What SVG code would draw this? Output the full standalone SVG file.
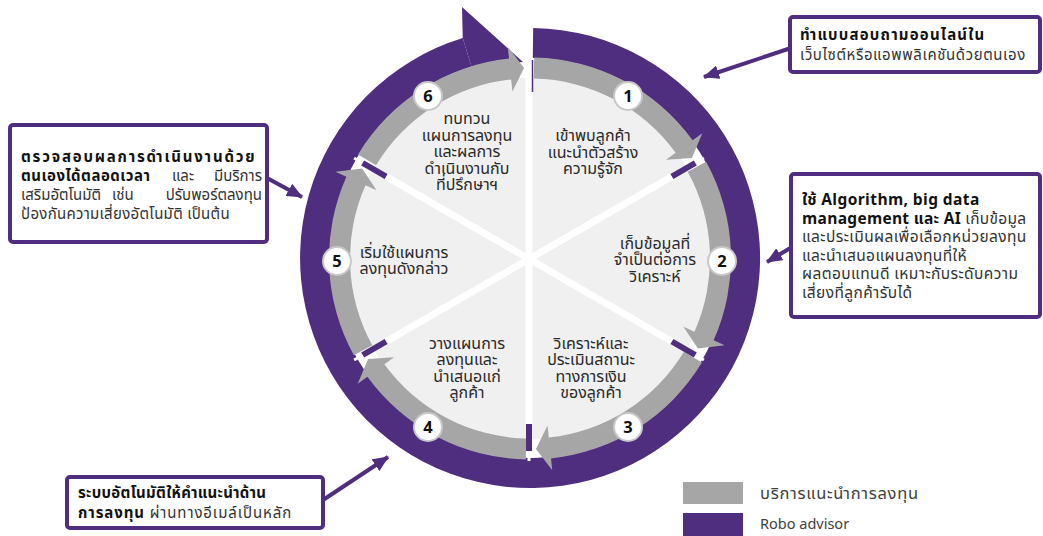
<svg xmlns="http://www.w3.org/2000/svg" width="1043" height="536" viewBox="0 0 1043 536">
<defs>
<marker id="ah" viewBox="0 0 16 14" refX="15" refY="7" markerWidth="16" markerHeight="14" markerUnits="userSpaceOnUse" orient="auto"><path d="M0,0 L16,7 L0,14 Z" fill="#4F2D7F"/></marker>
<style>
.t{font-family:"Noto Sans Thai","Noto Sans",Tahoma,sans-serif;font-size:15px;fill:#222}
.s{font-size:16px;fill:#2a2a2a;text-anchor:middle}
.m{font-size:15.5px;letter-spacing:0.4px}
.b{font-weight:bold;fill:#111}
.r{fill:#333}
.g{fill:#A6A6A6}
.p{fill:#4F2D7F}
.box{fill:#fff;stroke:#4F2D7F;stroke-width:4}
.arr{stroke:#4F2D7F;stroke-width:4;fill:none;marker-end:url(#ah)}
.num{fill:#fff;stroke:#C8C8C8;stroke-width:2}
.nt{font-family:"Noto Sans",Tahoma,sans-serif;font-size:16.5px;font-weight:bold;text-anchor:middle;fill:#111}
.sp{stroke:#fff;stroke-width:7}
.sp2{stroke:#fff;stroke-width:3}
.tk{stroke:#4F2D7F;stroke-width:6}
</style>
</defs>
<g id="ring">
<path class="p" d="M533.2 28 A230 230 0 1 1 462.75 38.05 L471.53 66.74 A200 200 0 1 0 532.8 58 Z"/>
<path class="p" d="M462 7 L523 62 L471.5 66.7 L462.75 38.05 Z"/>
<circle cx="530" cy="258.5" r="181" fill="#F0F0F0"/>
</g>
<g id="segments">
<path class="g" d="M534.21 57.54 A201 201 0 0 1 692.61 140.35 L702.32 133.3 L691.9 158.11 L665.92 159.75 L675.62 152.7 A180 180 0 0 0 533.77 78.54 Z"/>
<path class="g" d="M706.14 161.67 A201 201 0 0 1 713.62 340.25 L724.59 345.14 L697.89 348.52 L683.48 326.83 L694.44 331.71 A180 180 0 0 0 687.74 171.78 Z"/>
<path class="g" d="M701.93 362.62 A201 201 0 0 1 551.01 458.4 L552.26 470.33 L535.98 448.91 L547.56 425.58 L548.82 437.51 A180 180 0 0 0 683.96 351.75 Z"/>
<path class="g" d="M525.79 459.46 A201 201 0 0 1 367.39 376.65 L357.68 383.7 L368.1 358.89 L394.08 357.25 L384.38 364.3 A180 180 0 0 0 526.23 438.46 Z"/>
<path class="g" d="M353.86 355.33 A201 201 0 0 1 346.38 176.75 L335.41 171.86 L362.11 168.48 L376.52 190.17 L365.56 185.29 A180 180 0 0 0 372.26 345.22 Z"/>
<path class="g" d="M358.07 154.38 A201 201 0 0 1 508.99 58.6 L507.74 46.67 L524.02 68.09 L512.44 91.42 L511.18 79.49 A180 180 0 0 0 376.04 165.25 Z"/>
</g>
<g id="spokes">
<line class="sp" x1="529" y1="259" x2="529" y2="57"/>
<line class="sp" x1="529" y1="259" x2="671.9" y2="176.5"/>
<line class="sp" x1="529" y1="259" x2="671.9" y2="341.5"/>
<line class="sp" x1="529" y1="259" x2="529" y2="424"/>
<line class="sp" x1="529" y1="259" x2="386.1" y2="341.5"/>
<line class="sp" x1="529" y1="259" x2="386.1" y2="176.5"/>
<line class="sp2" x1="671.9" y1="176.5" x2="703.9" y2="158"/>
<line class="sp2" x1="671.9" y1="341.5" x2="703.9" y2="360"/>
<line class="sp2" x1="529" y1="424" x2="529" y2="461"/>
<line class="sp2" x1="386.1" y1="341.5" x2="354.1" y2="360"/>
<line class="sp2" x1="386.1" y1="176.5" x2="354.1" y2="158"/>
<line class="tk" x1="671.9" y1="176.5" x2="695.3" y2="163"/>
<line class="tk" x1="671.9" y1="341.5" x2="695.3" y2="355"/>
<line class="tk" x1="529" y1="424" x2="529" y2="451"/>
<line class="tk" x1="386.1" y1="341.5" x2="362.7" y2="355"/>
<line class="tk" x1="386.1" y1="176.5" x2="362.7" y2="163"/>
<line x1="532.5" y1="60" x2="532.5" y2="92" stroke="#4F2D7F" stroke-width="1.5"/>
</g>
<g id="step1">
<circle class="num" cx="628" cy="96" r="14"/><text class="nt" x="628" y="102">1</text>
<text class="t s"><tspan x="593" y="141">เข้าพบลูกค้า</tspan><tspan x="593" y="157.5">แนะนำตัวสร้าง</tspan><tspan x="593" y="174">ความรู้จัก</tspan></text>
</g>
<g id="step2">
<circle class="num" cx="722" cy="261" r="14"/><text class="nt" x="722" y="267">2</text>
<text class="t s"><tspan x="655" y="248.5">เก็บข้อมูลที่</tspan><tspan x="655" y="265">จำเป็นต่อการ</tspan><tspan x="655" y="281.5">วิเคราะห์</tspan></text>
</g>
<g id="step3">
<circle class="num" cx="628" cy="427" r="14"/><text class="nt" x="628" y="433">3</text>
<text class="t s"><tspan x="591" y="348.5">วิเคราะห์และ</tspan><tspan x="591" y="365">ประเมินสถานะ</tspan><tspan x="591" y="381.5">ทางการเงิน</tspan><tspan x="591" y="398">ของลูกค้า</tspan></text>
</g>
<g id="step4">
<circle class="num" cx="428" cy="427" r="14"/><text class="nt" x="428" y="433">4</text>
<text class="t s"><tspan x="467" y="348.5">วางแผนการ</tspan><tspan x="467" y="365">ลงทุนและ</tspan><tspan x="467" y="381.5">นำเสนอแก่</tspan><tspan x="467" y="398">ลูกค้า</tspan></text>
</g>
<g id="step5">
<circle class="num" cx="337" cy="261" r="14"/><text class="nt" x="337" y="267">5</text>
<text class="t s"><tspan x="404" y="257.5">เริ่มใช้แผนการ</tspan><tspan x="404" y="274">ลงทุนดังกล่าว</tspan></text>
</g>
<g id="step6">
<circle class="num" cx="428" cy="96" r="14"/><text class="nt" x="428" y="102">6</text>
<text class="t s"><tspan x="467" y="124">ทบทวน</tspan><tspan x="467" y="140.5">แผนการลงทุน</tspan><tspan x="467" y="157">และผลการ</tspan><tspan x="467" y="173.5">ดำเนินงานกับ</tspan><tspan x="467" y="190">ที่ปรึกษาฯ</tspan></text>
</g>
<g id="connectors">
<line class="arr" x1="791" y1="48" x2="704" y2="77"/>
<line class="arr" x1="792" y1="247" x2="767" y2="262"/>
<line class="arr" x1="267" y1="178" x2="302" y2="197"/>
<line class="arr" x1="323" y1="500" x2="388" y2="457"/>
</g>
<g id="box-online">
<rect class="box" x="790" y="17" width="250" height="55" rx="3"/>
<text class="t b" x="800" y="40" style="letter-spacing:1.2px">ทำแบบสอบถามออนไลน์ใน</text>
<text class="t r" x="800" y="60" style="letter-spacing:0.6px">เว็บไซต์หรือแอพพลิเคชันด้วยตนเอง</text>
</g>
<g id="box-ai">
<rect class="box" x="791" y="174" width="249" height="143" rx="3"/>
<text class="t m b" x="802" y="205" style="letter-spacing:0.4px">ใช้ Algorithm, big data</text>
<text class="t m" x="802" y="223.5" style="letter-spacing:0.3px"><tspan class="b">management และ AI</tspan><tspan class="r"> เก็บข้อมูล</tspan></text>
<text class="t m r" x="802" y="242">และประเมินผลเพื่อเลือกหน่วยลงทุน</text>
<text class="t m r" x="802" y="260.5">และนำเสนอแผนลงทุนที่ให้</text>
<text class="t m r" x="802" y="279">ผลตอบแทนดี เหมาะกับระดับความ</text>
<text class="t m r" x="802" y="297.5">เสี่ยงที่ลูกค้ารับได้</text>
</g>
<g id="box-monitor">
<rect class="box" x="10" y="125" width="257" height="117" rx="3"/>
<text class="t b" x="21" y="162" style="letter-spacing:1.8px">ตรวจสอบผลการดำเนินงานด้วย</text>
<text class="t b" x="21" y="181" style="letter-spacing:0.5px">ตนเองได้ตลอดเวลา</text>
<text class="t r" x="172" y="181">และ</text>
<text class="t r" x="262" y="181" text-anchor="end">มีบริการ</text>
<text class="t r" x="21" y="200">เสริมอัตโนมัติ</text>
<text class="t r" x="112" y="200">เช่น</text>
<text class="t r" x="262" y="200" text-anchor="end">ปรับพอร์ตลงทุน</text>
<text class="t r" x="21" y="219" style="letter-spacing:0.3px">ป้องกันความเสี่ยงอัตโนมัติ เป็นต้น</text>
</g>
<g id="box-email">
<rect class="box" x="67" y="477" width="256" height="51" rx="3"/>
<text class="t b" x="78" y="498" style="letter-spacing:0.3px">ระบบอัตโนมัติให้คำแนะนำด้าน</text>
<text class="t" x="78" y="518" style="letter-spacing:0.9px"><tspan class="b">การลงทุน</tspan><tspan class="r"> ผ่านทางอีเมล์เป็นหลัก</tspan></text>
</g>
<g id="legend">
<rect x="683" y="482" width="60" height="22" fill="#A6A6A6"/>
<rect x="683" y="513" width="60" height="23" fill="#4F2D7F"/>
<text class="t" x="760" y="499" style="fill:#404040;font-size:16.5px;letter-spacing:0.7px">บริการแนะนำการลงทุน</text>
<text class="t" x="760" y="529" style="fill:#404040;font-size:14.5px">Robo advisor</text>
</g>
</svg>
